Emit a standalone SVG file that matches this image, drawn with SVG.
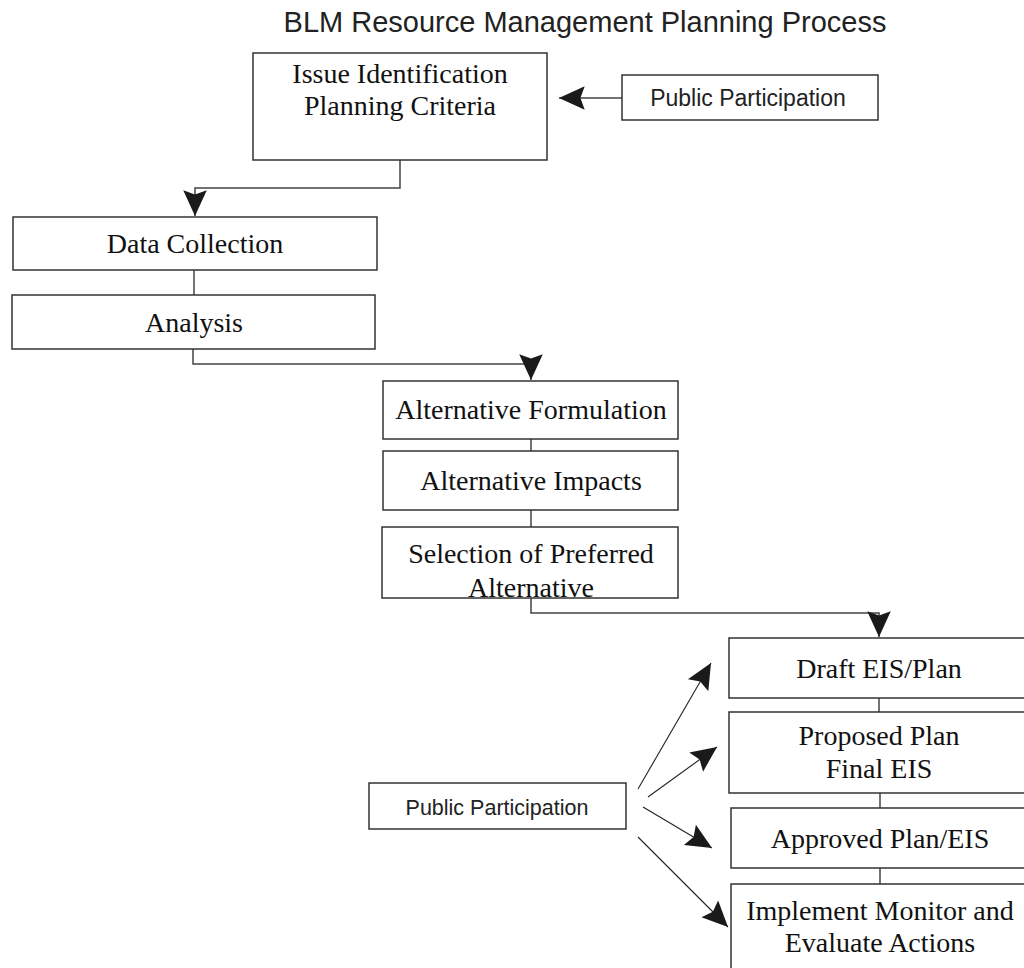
<svg xmlns="http://www.w3.org/2000/svg" width="1024" height="968" viewBox="0 0 1024 968">
<style>
.box{fill:#fff;stroke:#333;stroke-width:1.5}
.serif{font-family:"Liberation Serif","Times New Roman",serif;font-size:28px;fill:#111;text-anchor:middle}
.sans{font-family:"Liberation Sans",Arial,sans-serif;fill:#222;text-anchor:middle}
.conn{fill:none;stroke:#444;stroke-width:1.5}
.diag{fill:none;stroke:#222;stroke-width:1.1}
</style>
<defs>
<marker id="ah" markerUnits="userSpaceOnUse" markerWidth="30" markerHeight="30" viewBox="-26 -13 28 26" refX="0" refY="0" orient="auto">
<path d="M0,0 L-24,-11 L-20,0 L-24,11 Z" fill="#1a1a1a"/>
</marker>
</defs>
<rect width="1024" height="968" fill="#fff"/>
<text class="sans" x="585" y="32" font-size="29">BLM Resource Management Planning Process</text>

<g id="connectors">
<line class="conn" x1="622" y1="98" x2="559" y2="98" marker-end="url(#ah)"/>
<path class="conn" d="M400,160 V188 H195 V216" marker-end="url(#ah)"/>
<line class="conn" x1="194" y1="270" x2="194" y2="295"/>
<path class="conn" d="M193,349 V364 H531 V380" marker-end="url(#ah)"/>
<line class="conn" x1="531" y1="439" x2="531" y2="451"/>
<line class="conn" x1="531" y1="510" x2="531" y2="527"/>
<path class="conn" d="M531,598 V613 H879 V637" marker-end="url(#ah)"/>
<line class="conn" x1="879" y1="698" x2="879" y2="712"/>
<line class="conn" x1="880" y1="793" x2="880" y2="808"/>
<line class="conn" x1="880" y1="868" x2="880" y2="884"/>
<line class="diag" x1="638" y1="789" x2="711" y2="663" marker-end="url(#ah)"/>
<line class="diag" x1="648" y1="797" x2="717" y2="747" marker-end="url(#ah)"/>
<line class="diag" x1="643" y1="807" x2="712" y2="848" marker-end="url(#ah)"/>
<line class="diag" x1="638" y1="837" x2="728" y2="927" marker-end="url(#ah)"/>
</g>

<g id="issue">
<rect class="box" x="253" y="53" width="294" height="107"/>
<text class="serif" x="400" y="83">Issue Identification</text>
<text class="serif" x="400" y="115">Planning Criteria</text>
</g>
<g id="public-top">
<rect class="box" x="622" y="75" width="256" height="45"/>
<text class="sans" x="748" y="106" font-size="23">Public Participation</text>
</g>
<g id="data">
<rect class="box" x="13" y="217" width="364" height="53"/>
<text class="serif" x="195" y="253">Data Collection</text>
</g>
<g id="analysis">
<rect class="box" x="12" y="295" width="363" height="54"/>
<text class="serif" x="194" y="332">Analysis</text>
</g>
<g id="alt-form">
<rect class="box" x="383" y="381" width="295" height="58"/>
<text class="serif" x="531" y="419">Alternative Formulation</text>
</g>
<g id="alt-impacts">
<rect class="box" x="383" y="451" width="295" height="59"/>
<text class="serif" x="531" y="490">Alternative Impacts</text>
</g>
<g id="selection">
<rect class="box" x="382" y="527" width="296" height="71"/>
<text class="serif" x="531" y="563">Selection of Preferred</text>
<text class="serif" x="531" y="597">Alternative</text>
</g>
<g id="draft">
<rect class="box" x="729" y="638" width="300" height="60"/>
<text class="serif" x="879" y="678">Draft EIS/Plan</text>
</g>
<g id="proposed">
<rect class="box" x="729" y="712" width="300" height="81"/>
<text class="serif" x="879" y="745">Proposed Plan</text>
<text class="serif" x="879" y="778">Final EIS</text>
</g>
<g id="approved">
<rect class="box" x="731" y="808" width="300" height="60"/>
<text class="serif" x="880" y="848">Approved Plan/EIS</text>
</g>
<g id="implement">
<rect class="box" x="731" y="884" width="300" height="100"/>
<text class="serif" x="880" y="920">Implement Monitor and</text>
<text class="serif" x="880" y="952">Evaluate Actions</text>
</g>
<g id="public-bottom">
<rect class="box" x="369" y="783" width="257" height="46"/>
<text class="sans" x="497" y="815" font-size="21.5">Public Participation</text>
</g>
</svg>
